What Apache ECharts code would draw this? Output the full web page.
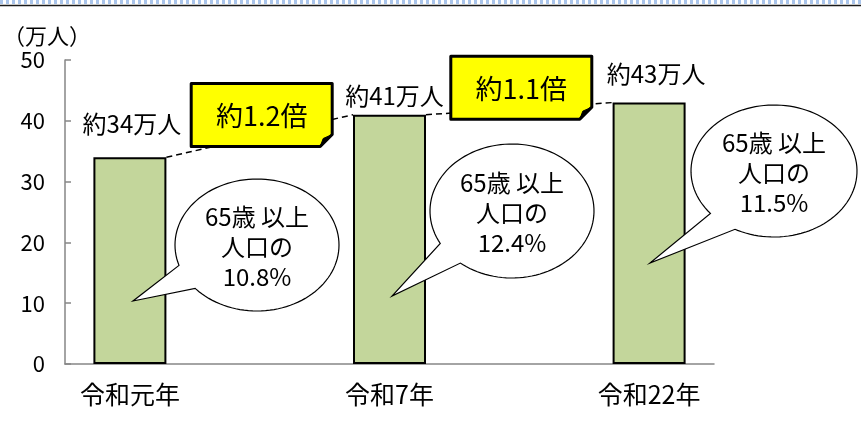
<!DOCTYPE html>
<html>
<head>
<meta charset="utf-8">
<script src="https://cdn.jsdelivr.net/npm/echarts@6/dist/echarts.min.js"></script>
<style>
  html, body { margin: 0; padding: 0; background: #fff; }
  #main { width: 861px; height: 438px; }
</style>
</head>
<body>
<div id="main"></div>
<script>
// data
const years = ["令和元年", "令和7年", "令和22年"];
const population = [34, 41, 43]; // 万人
const popLabels = ["約34万人", "約41万人", "約43万人"];
const ratioLabels = ["約1.2倍", "約1.1倍"];
const elderlyShare = ["10.8%", "12.4%", "11.5%"];
const yMin = 0, yMax = 50, yStep = 10;

const FONT = '"Noto Sans CJK JP", "Noto Sans", sans-serif';
const BAR_W = 73;

// one empty slot between years (like the original sheet)
const axisCats = [];
years.forEach((y, i) => {
  axisCats.push(y);
  if (i < years.length - 1) axisCats.push("");
});

// label tweaks per bar
const labelDist = [21, 7, 17];
const labelShiftX = [2, 5, 7];

const barData = population.map((v, i) => ({
  value: [i * 2, v],
  label: { distance: labelDist[i], offset: [labelShiftX[i], 0] },
}));

const pairData = [];
for (let i = 0; i < population.length - 1; i++) {
  pairData.push([i * 2, population[i], i * 2 + 2, population[i + 1]]);
}

// speech bubbles (ellipse + tail)
function bubble(cx, cy, rx, ry, t1, t2, tip, text) {
  const pts = [];
  for (let a = t2; a <= t1 + 360; a += 3) {
    const r = (a * Math.PI) / 180;
    pts.push([cx + rx * Math.cos(r), cy + ry * Math.sin(r)]);
  }
  const r1 = (t1 * Math.PI) / 180;
  pts.push([cx + rx * Math.cos(r1), cy + ry * Math.sin(r1)]);
  pts.push(tip);
  return [
    {
      type: "polygon",
      z: 100,
      shape: { points: pts },
      style: { fill: "#fff", stroke: "#000", lineWidth: 1.2 },
    },
    {
      type: "text",
      z: 101,
      x: cx,
      y: cy + 2,
      style: {
        text: text,
        fill: "#000",
        fontSize: 24,
        fontFamily: FONT,
        lineHeight: 30,
        align: "center",
        verticalAlign: "middle",
      },
    },
  ];
}

const myChart = echarts.init(document.getElementById("main"));

const option = {
  backgroundColor: "#fff",
  animation: false,
  grid: { left: 64, right: 147, top: 60, bottom: 74 },
  xAxis: {
    type: "category",
    data: axisCats,
    axisLine: { lineStyle: { color: "#868686", width: 1.5 } },
    axisTick: { inside: true, length: 5, lineStyle: { color: "#868686", width: 1.5 } },
    axisLabel: {
      interval: 0,
      margin: 18,
      color: "#000",
      fontSize: 25,
      fontFamily: FONT,
    },
  },
  yAxis: {
    type: "value",
    min: yMin,
    max: yMax,
    interval: yStep,
    name: "（万人）",
    nameLocation: "end",
    nameGap: 13,
    nameTextStyle: {
      color: "#000",
      fontSize: 22,
      fontFamily: FONT,
      align: "center",
      padding: [0, 36, 0, 0],
    },
    axisLine: { show: true, lineStyle: { color: "#868686", width: 1.5 } },
    axisTick: { show: true, inside: true, length: 6, lineStyle: { color: "#868686", width: 1.5 } },
    splitLine: { show: false },
    axisLabel: {
      margin: 20,
      color: "#000",
      fontSize: 22,
      fontFamily: FONT,
    },
  },
  series: [
    {
      type: "bar",
      barWidth: BAR_W,
      data: barData,
      itemStyle: { color: "#c3d69b", borderColor: "#000", borderWidth: 2 },
      label: {
        show: true,
        position: "top",
        color: "#000",
        fontSize: 24,
        fontFamily: FONT,
        formatter: (p) => popLabels[p.dataIndex],
      },
      z: 2,
    },
    {
      // dashed link between bar tops + ratio callout
      type: "custom",
      z: 3,
      data: pairData,
      encode: { x: [0, 2], y: [1, 3] },
      renderItem: function (params, api) {
        const a = api.coord([api.value(0), api.value(1)]);
        const b = api.coord([api.value(2), api.value(3)]);
        const x1 = a[0] + BAR_W / 2, y1 = a[1];
        const x2 = b[0] - BAR_W / 2, y2 = b[1];
        const mx = (x1 + x2) / 2 + 2;
        const my = (y1 + y2) / 2 - 21;
        const w = 141, h = 63;
        const l = mx - w / 2, t = my - h / 2, r = l + w, bt = t + h;
        return {
          type: "group",
          children: [
            {
              type: "line",
              shape: { x1: x1, y1: y1, x2: x2, y2: y2 },
              style: { stroke: "#000", lineWidth: 1.5, lineDash: [6, 4] },
            },
            {
              type: "polygon",
              shape: { points: [[l, t], [r, t], [r, bt - 12], [r - 12, bt], [l, bt]] },
              style: { fill: "#ffff00", stroke: "#000", lineWidth: 3, lineJoin: "round" },
            },
            {
              type: "polygon",
              shape: { points: [[r, bt - 12], [r - 12, bt], [r - 9, bt - 8]] },
              style: { fill: "#000", stroke: "#000", lineWidth: 1 },
            },
            {
              type: "text",
              x: mx,
              y: my + 1,
              style: {
                text: ratioLabels[params.dataIndex],
                fill: "#000",
                fontSize: 27,
                fontFamily: FONT,
                align: "center",
                verticalAlign: "middle",
              },
            },
          ],
        };
      },
    },
  ],
  graphic: [
    // top border of the panel
    {
      type: "line",
      z: 100,
      shape: { x1: 0, y1: 2, x2: 861, y2: 2 },
      style: { stroke: "#a9c4ea", lineWidth: 4, lineDash: [3, 3] },
    },
    {
      type: "line",
      z: 100,
      shape: { x1: 0, y1: 5.5, x2: 861, y2: 5.5 },
      style: { stroke: "#1a1a1a", lineWidth: 1.5 },
    },
    ...bubble(257, 245, 82, 66, 139, 162, [133, 301], "65歳 以上\n人口の\n" + elderlyShare[0]),
    ...bubble(512, 211, 82, 67, 129, 151, [392, 296], "65歳 以上\n人口の\n" + elderlyShare[1]),
    ...bubble(774, 171, 83, 66, 118, 140, [650, 263], "65歳 以上\n人口の\n" + elderlyShare[2]),
  ],
};

option && myChart.setOption(option);
</script>
</body>
</html>
